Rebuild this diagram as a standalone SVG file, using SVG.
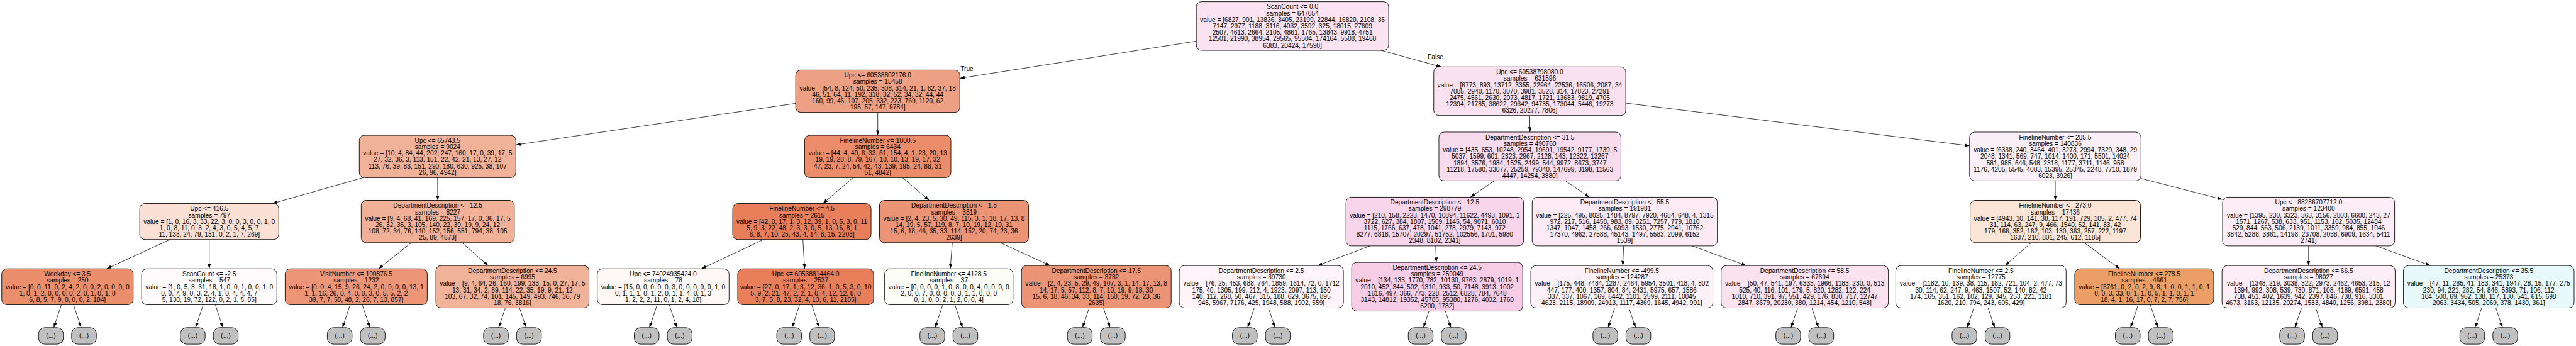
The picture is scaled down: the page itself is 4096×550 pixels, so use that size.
<svg xmlns="http://www.w3.org/2000/svg" width="4096" height="550" viewBox="0 0 4096 550">
<defs>
<marker id="ah" viewBox="0 0 14 10" refX="14" refY="5" markerWidth="14" markerHeight="10" markerUnits="userSpaceOnUse" orient="auto"><path d="M0,0.2 L14,5 L0,9.8 Z" fill="#000"/></marker>
</defs>
<style>
.n rect{stroke:#000;stroke-width:1.6}
.x rect{fill:#c0c0c0;stroke:#000;stroke-width:1.6}
text{font-family:"Liberation Sans",Arial,Helvetica,sans-serif;font-size:18.65px;text-anchor:middle;fill:#000}
#edges line{stroke:#000;stroke-width:1.4;marker-end:url(#ah)}
</style>
<rect width="4096" height="550" fill="#fff"/>
<g transform="scale(0.547228)">
<g id="edges">
<line x1="3476" y1="119.5" x2="2789" y2="227.5"/>
<line x1="4012.9" y1="146.25" x2="4187.6" y2="194.25"/>
<line x1="2312" y1="300.3" x2="1499" y2="420.8"/>
<line x1="2550.5" y1="326.5" x2="2550.5" y2="393"/>
<line x1="4445" y1="335.75" x2="4445.5" y2="383.75"/>
<line x1="4724" y1="299.6" x2="5723" y2="423.6"/>
<line x1="1055.6" y1="516" x2="791.4" y2="591.25"/>
<line x1="1271.5" y1="516" x2="1272" y2="582"/>
<line x1="2478.75" y1="516" x2="2391" y2="591.25"/>
<line x1="2622.6" y1="516" x2="2699.9" y2="582"/>
<line x1="4342" y1="525.25" x2="4272.5" y2="572.75"/>
<line x1="4548.6" y1="525.25" x2="4617.9" y2="572.75"/>
<line x1="5972" y1="525.25" x2="5972" y2="582"/>
<line x1="6221" y1="518.4" x2="6458" y2="579.3"/>
<line x1="494.4" y1="695.75" x2="309.6" y2="780.75"/>
<line x1="608" y1="695.75" x2="608" y2="780.75"/>
<line x1="1195.1" y1="705" x2="1100.3" y2="780.75"/>
<line x1="1342.4" y1="705" x2="1418.6" y2="771.5"/>
<line x1="2218.9" y1="695.75" x2="2038.1" y2="780.75"/>
<line x1="2333" y1="695.75" x2="2338" y2="780.75"/>
<line x1="2767.1" y1="705" x2="2761.1" y2="780.75"/>
<line x1="2906.2" y1="705" x2="3051.3" y2="771.5"/>
<line x1="3980.8" y1="714.25" x2="3828.5" y2="771.5"/>
<line x1="4171.6" y1="714.25" x2="4173.4" y2="762.25"/>
<line x1="4717.8" y1="714.25" x2="4715.3" y2="771.5"/>
<line x1="4916.3" y1="714.25" x2="5074.3" y2="771.5"/>
<line x1="5901.9" y1="705" x2="5826.1" y2="771.5"/>
<line x1="6055.9" y1="705" x2="6159.2" y2="780.75"/>
<line x1="6708" y1="714.25" x2="6708" y2="771.5"/>
<line x1="6903.5" y1="714.25" x2="7061.6" y2="771.5"/>
<line x1="178.4" y1="885.25" x2="156.1" y2="951.8"/>
<line x1="213.6" y1="885.25" x2="235.9" y2="951.8"/>
<line x1="590.4" y1="885.25" x2="568.1" y2="951.8"/>
<line x1="625.6" y1="885.25" x2="647.9" y2="951.8"/>
<line x1="1017.4" y1="885.25" x2="995.1" y2="951.8"/>
<line x1="1052.6" y1="885.25" x2="1074.9" y2="951.8"/>
<line x1="1468.3" y1="894.5" x2="1449.1" y2="951.8"/>
<line x1="1509.7" y1="894.5" x2="1528.9" y2="951.8"/>
<line x1="1909.4" y1="885.25" x2="1887.1" y2="951.8"/>
<line x1="1944.6" y1="885.25" x2="1966.9" y2="951.8"/>
<line x1="2323.4" y1="885.25" x2="2301.1" y2="951.8"/>
<line x1="2358.6" y1="885.25" x2="2380.9" y2="951.8"/>
<line x1="2739.4" y1="885.25" x2="2717.1" y2="951.8"/>
<line x1="2774.6" y1="885.25" x2="2796.9" y2="951.8"/>
<line x1="3164.8" y1="894.5" x2="3145.6" y2="951.8"/>
<line x1="3206.2" y1="894.5" x2="3225.4" y2="951.8"/>
<line x1="3644.3" y1="894.5" x2="3625.1" y2="951.8"/>
<line x1="3685.7" y1="894.5" x2="3704.9" y2="951.8"/>
<line x1="4152.2" y1="903.75" x2="4136.1" y2="951.8"/>
<line x1="4199.8" y1="903.75" x2="4215.9" y2="951.8"/>
<line x1="4691.8" y1="894.5" x2="4672.6" y2="951.8"/>
<line x1="4733.2" y1="894.5" x2="4752.4" y2="951.8"/>
<line x1="5223.3" y1="894.5" x2="5204.1" y2="951.8"/>
<line x1="5264.7" y1="894.5" x2="5283.9" y2="951.8"/>
<line x1="5735.3" y1="894.5" x2="5716.1" y2="951.8"/>
<line x1="5776.7" y1="894.5" x2="5795.9" y2="951.8"/>
<line x1="6212.9" y1="885.25" x2="6190.6" y2="951.8"/>
<line x1="6248.1" y1="885.25" x2="6270.4" y2="951.8"/>
<line x1="6687.3" y1="894.5" x2="6668.1" y2="951.8"/>
<line x1="6728.7" y1="894.5" x2="6747.9" y2="951.8"/>
<line x1="7210.8" y1="894.5" x2="7191.6" y2="951.8"/>
<line x1="7252.2" y1="894.5" x2="7271.4" y2="951.8"/>
<text x="2809.5" y="206.5">True</text>
<text x="4171" y="171.5">False</text>
</g>

<g id="n0" class="n"><rect x="3476" y="4.75" width="559" height="141.5" rx="15" fill="#fbe3f1"/>
<text y="26.4"><tspan x="3755.5">ScanCount &lt;= 0.0</tspan><tspan x="3755.5" dy="18.6">samples = 647054</tspan><tspan x="3755.5" dy="18.6">value = [6827, 901, 13836, 3405, 23199, 22844, 16820, 2108, 35</tspan><tspan x="3755.5" dy="18.6">7147, 2977, 1188, 3116, 4032, 3592, 325, 18015, 27609</tspan><tspan x="3755.5" dy="18.6">2507, 4613, 2664, 2105, 4861, 1765, 13843, 9918, 4751</tspan><tspan x="3755.5" dy="18.6">12501, 21990, 38954, 29565, 95504, 174164, 5508, 19468</tspan><tspan x="3755.5" dy="18.6">6383, 20424, 17590]</tspan></text></g>

<g id="n1" class="n"><rect x="2312" y="203.5" width="477" height="123" rx="15" fill="#eda083"/>
<text y="225.2"><tspan x="2550.5">Upc &lt;= 60538802176.0</tspan><tspan x="2550.5" dy="18.6">samples = 15458</tspan><tspan x="2550.5" dy="18.6">value = [54, 8, 124, 50, 235, 308, 314, 21, 1, 62, 37, 18</tspan><tspan x="2550.5" dy="18.6">46, 51, 64, 11, 192, 318, 32, 52, 34, 32, 44, 44</tspan><tspan x="2550.5" dy="18.6">160, 99, 46, 107, 205, 332, 223, 769, 1120, 62</tspan><tspan x="2550.5" dy="18.6">195, 57, 147, 9784]</tspan></text></g>

<g id="n2" class="n"><rect x="4166" y="194.25" width="558" height="141.5" rx="15" fill="#fae1ef"/>
<text y="215.9"><tspan x="4445">Upc &lt;= 60538798080.0</tspan><tspan x="4445" dy="18.6">samples = 631596</tspan><tspan x="4445" dy="18.6">value = [6773, 893, 13712, 3355, 22964, 22536, 16506, 2087, 34</tspan><tspan x="4445" dy="18.6">7085, 2940, 1170, 3070, 3981, 3528, 314, 17823, 27291</tspan><tspan x="4445" dy="18.6">2475, 4561, 2630, 2073, 4817, 1721, 13683, 9819, 4705</tspan><tspan x="4445" dy="18.6">12394, 21785, 38622, 29342, 94735, 173044, 5446, 19273</tspan><tspan x="4445" dy="18.6">6326, 20277, 7806]</tspan></text></g>

<g id="n3" class="n"><rect x="1044" y="393" width="455" height="123" rx="15" fill="#f1b29a"/>
<text y="414.7"><tspan x="1271.5">Upc &lt;= 65743.5</tspan><tspan x="1271.5" dy="18.6">samples = 9024</tspan><tspan x="1271.5" dy="18.6">value = [10, 4, 84, 44, 202, 247, 160, 17, 0, 39, 17, 5</tspan><tspan x="1271.5" dy="18.6">27, 32, 36, 3, 113, 151, 22, 42, 21, 13, 27, 12</tspan><tspan x="1271.5" dy="18.6">113, 76, 39, 83, 151, 290, 180, 630, 925, 38, 107</tspan><tspan x="1271.5" dy="18.6">26, 96, 4942]</tspan></text></g>

<g id="n4" class="n"><rect x="2338" y="393" width="425" height="123" rx="15" fill="#eb8c6a"/>
<text y="414.7"><tspan x="2550.5">FinelineNumber &lt;= 1000.5</tspan><tspan x="2550.5" dy="18.6">samples = 6434</tspan><tspan x="2550.5" dy="18.6">value = [44, 4, 40, 6, 33, 61, 154, 4, 1, 23, 20, 13</tspan><tspan x="2550.5" dy="18.6">19, 19, 28, 8, 79, 167, 10, 10, 13, 19, 17, 32</tspan><tspan x="2550.5" dy="18.6">47, 23, 7, 24, 54, 42, 43, 139, 195, 24, 88, 31</tspan><tspan x="2550.5" dy="18.6">51, 4842]</tspan></text></g>

<g id="n5" class="n"><rect x="4181" y="383.75" width="529" height="141.5" rx="15" fill="#f9dbee"/>
<text y="405.4"><tspan x="4445.5">DepartmentDescription &lt;= 31.5</tspan><tspan x="4445.5" dy="18.6">samples = 490760</tspan><tspan x="4445.5" dy="18.6">value = [435, 653, 10248, 2954, 19691, 19542, 9177, 1739, 5</tspan><tspan x="4445.5" dy="18.6">5037, 1599, 601, 2323, 2967, 2128, 143, 12322, 13267</tspan><tspan x="4445.5" dy="18.6">1894, 3576, 1984, 1525, 2499, 544, 9972, 8673, 3747</tspan><tspan x="4445.5" dy="18.6">11218, 17580, 33077, 25259, 79340, 147699, 3198, 11563</tspan><tspan x="4445.5" dy="18.6">4447, 14254, 3880]</tspan></text></g>

<g id="n6" class="n"><rect x="5723" y="383.75" width="498" height="141.5" rx="15" fill="#fcf0f8"/>
<text y="405.4"><tspan x="5972">FinelineNumber &lt;= 285.5</tspan><tspan x="5972" dy="18.6">samples = 140836</tspan><tspan x="5972" dy="18.6">value = [6338, 240, 3464, 401, 3273, 2994, 7329, 348, 29</tspan><tspan x="5972" dy="18.6">2048, 1341, 569, 747, 1014, 1400, 171, 5501, 14024</tspan><tspan x="5972" dy="18.6">581, 985, 646, 548, 2318, 1177, 3711, 1146, 958</tspan><tspan x="5972" dy="18.6">1176, 4205, 5545, 4083, 15395, 25345, 2248, 7710, 1879</tspan><tspan x="5972" dy="18.6">6023, 3926]</tspan></text></g>

<g id="n7" class="n"><rect x="406" y="591.25" width="404" height="104.5" rx="15" fill="#fbe0d5"/>
<text y="613"><tspan x="608">Upc &lt;= 416.5</tspan><tspan x="608" dy="18.6">samples = 797</tspan><tspan x="608" dy="18.6">value = [1, 0, 16, 3, 33, 22, 3, 0, 0, 3, 0, 0, 1, 0</tspan><tspan x="608" dy="18.6">1, 0, 8, 11, 0, 3, 2, 4, 3, 0, 5, 4, 5, 7</tspan><tspan x="608" dy="18.6">11, 138, 24, 79, 131, 0, 2, 1, 7, 269]</tspan></text></g>

<g id="n8" class="n"><rect x="1049.5" y="582" width="445" height="123" rx="15" fill="#f1b199"/>
<text y="603.7"><tspan x="1272">DepartmentDescription &lt;= 12.5</tspan><tspan x="1272" dy="18.6">samples = 8227</tspan><tspan x="1272" dy="18.6">value = [9, 4, 68, 41, 169, 225, 157, 17, 0, 36, 17, 5</tspan><tspan x="1272" dy="18.6">26, 32, 35, 3, 105, 140, 22, 39, 19, 9, 24, 12</tspan><tspan x="1272" dy="18.6">108, 72, 34, 76, 140, 152, 156, 551, 794, 38, 105</tspan><tspan x="1272" dy="18.6">25, 89, 4673]</tspan></text></g>

<g id="n9" class="n"><rect x="2129" y="591.25" width="402" height="104.5" rx="15" fill="#e97f5a"/>
<text y="613"><tspan x="2330">FinelineNumber &lt;= 4.5</tspan><tspan x="2330" dy="18.6">samples = 2615</tspan><tspan x="2330" dy="18.6">value = [42, 0, 17, 1, 3, 12, 39, 1, 0, 5, 3, 0, 11</tspan><tspan x="2330" dy="18.6">5, 9, 3, 22, 48, 2, 3, 3, 0, 5, 13, 16, 8, 1</tspan><tspan x="2330" dy="18.6">6, 8, 7, 10, 25, 43, 4, 14, 8, 15, 2203]</tspan></text></g>

<g id="n10" class="n"><rect x="2555.5" y="582" width="433" height="123" rx="15" fill="#ec9576"/>
<text y="603.7"><tspan x="2772">DepartmentDescription &lt;= 1.5</tspan><tspan x="2772" dy="18.6">samples = 3819</tspan><tspan x="2772" dy="18.6">value = [2, 4, 23, 5, 30, 49, 115, 3, 1, 18, 17, 13, 8</tspan><tspan x="2772" dy="18.6">14, 19, 5, 57, 119, 8, 7, 10, 19, 12, 19, 31</tspan><tspan x="2772" dy="18.6">15, 6, 18, 46, 35, 33, 114, 152, 20, 74, 23, 36</tspan><tspan x="2772" dy="18.6">2639]</tspan></text></g>

<g id="n11" class="n"><rect x="3911" y="572.75" width="516" height="141.5" rx="15" fill="#f8d5ea"/>
<text y="594.4"><tspan x="4169">DepartmentDescription &lt;= 12.5</tspan><tspan x="4169" dy="18.6">samples = 298779</tspan><tspan x="4169" dy="18.6">value = [210, 158, 2223, 1470, 10894, 11622, 4493, 1091, 1</tspan><tspan x="4169" dy="18.6">3722, 627, 384, 1807, 1509, 1145, 54, 9071, 6010</tspan><tspan x="4169" dy="18.6">1115, 1766, 637, 478, 1041, 278, 2979, 7143, 972</tspan><tspan x="4169" dy="18.6">8277, 6818, 15707, 20297, 51752, 102556, 1701, 5980</tspan><tspan x="4169" dy="18.6">2348, 8102, 2341]</tspan></text></g>

<g id="n12" class="n"><rect x="4452" y="572.75" width="538" height="141.5" rx="15" fill="#fcebf5"/>
<text y="594.4"><tspan x="4721">DepartmentDescription &lt;= 55.5</tspan><tspan x="4721" dy="18.6">samples = 191981</tspan><tspan x="4721" dy="18.6">value = [225, 495, 8025, 1484, 8797, 7920, 4684, 648, 4, 1315</tspan><tspan x="4721" dy="18.6">972, 217, 516, 1458, 983, 89, 3251, 7257, 779, 1810</tspan><tspan x="4721" dy="18.6">1347, 1047, 1458, 266, 6993, 1530, 2775, 2941, 10762</tspan><tspan x="4721" dy="18.6">17370, 4962, 27588, 45143, 1497, 5583, 2099, 6152</tspan><tspan x="4721" dy="18.6">1539]</tspan></text></g>

<g id="n13" class="n"><rect x="5724.5" y="582" width="495" height="123" rx="15" fill="#fbe5d7"/>
<text y="603.7"><tspan x="5972">FinelineNumber &lt;= 273.0</tspan><tspan x="5972" dy="18.6">samples = 17436</tspan><tspan x="5972" dy="18.6">value = [4943, 10, 141, 38, 117, 191, 729, 105, 2, 477, 74</tspan><tspan x="5972" dy="18.6">31, 114, 63, 247, 9, 466, 1540, 52, 141, 83, 42</tspan><tspan x="5972" dy="18.6">179, 166, 352, 162, 103, 130, 363, 257, 222, 1197</tspan><tspan x="5972" dy="18.6">1637, 210, 801, 245, 612, 1185]</tspan></text></g>

<g id="n14" class="n"><rect x="6458" y="572.75" width="500" height="141.5" rx="15" fill="#fdedf6"/>
<text y="594.4"><tspan x="6708">Upc &lt;= 88286707712.0</tspan><tspan x="6708" dy="18.6">samples = 123400</tspan><tspan x="6708" dy="18.6">value = [1395, 230, 3323, 363, 3156, 2803, 6600, 243, 27</tspan><tspan x="6708" dy="18.6">1571, 1267, 538, 633, 951, 1153, 162, 5035, 12484</tspan><tspan x="6708" dy="18.6">529, 844, 563, 506, 2139, 1011, 3359, 984, 855, 1046</tspan><tspan x="6708" dy="18.6">3842, 5288, 3861, 14198, 23708, 2038, 6909, 1634, 5411</tspan><tspan x="6708" dy="18.6">2741]</tspan></text></g>

<g id="n15" class="n"><rect x="5" y="780.75" width="382" height="104.5" rx="15" fill="#eb8e6c"/>
<text y="802.5"><tspan x="196">Weekday &lt;= 3.5</tspan><tspan x="196" dy="18.6">samples = 250</tspan><tspan x="196" dy="18.6">value = [0, 0, 11, 0, 2, 4, 2, 0, 0, 2, 0, 0, 0, 0</tspan><tspan x="196" dy="18.6">1, 0, 1, 2, 0, 0, 0, 0, 2, 0, 1, 0, 1, 0</tspan><tspan x="196" dy="18.6">6, 8, 5, 7, 9, 0, 0, 0, 2, 184]</tspan></text></g>

<g id="n16" class="n"><rect x="411.5" y="780.75" width="393" height="104.5" rx="15" fill="#fefbfd"/>
<text y="802.5"><tspan x="608">ScanCount &lt;= -2.5</tspan><tspan x="608" dy="18.6">samples = 547</tspan><tspan x="608" dy="18.6">value = [1, 0, 5, 3, 31, 18, 1, 0, 0, 1, 0, 0, 1, 0</tspan><tspan x="608" dy="18.6">0, 0, 7, 9, 0, 3, 2, 4, 1, 0, 4, 4, 4, 7</tspan><tspan x="608" dy="18.6">5, 130, 19, 72, 122, 0, 2, 1, 5, 85]</tspan></text></g>

<g id="n17" class="n"><rect x="828.5" y="780.75" width="413" height="104.5" rx="15" fill="#ec9577"/>
<text y="802.5"><tspan x="1035">VisitNumber &lt;= 190876.5</tspan><tspan x="1035" dy="18.6">samples = 1232</tspan><tspan x="1035" dy="18.6">value = [0, 0, 4, 15, 9, 26, 24, 2, 0, 9, 0, 0, 13, 1</tspan><tspan x="1035" dy="18.6">1, 1, 16, 26, 0, 4, 0, 0, 3, 0, 5, 5, 2, 2</tspan><tspan x="1035" dy="18.6">39, 7, 7, 58, 48, 2, 26, 7, 13, 857]</tspan></text></g>

<g id="n18" class="n"><rect x="1266.5" y="771.5" width="445" height="123" rx="15" fill="#f1b29a"/>
<text y="793.2"><tspan x="1489">DepartmentDescription &lt;= 24.5</tspan><tspan x="1489" dy="18.6">samples = 6995</tspan><tspan x="1489" dy="18.6">value = [9, 4, 64, 26, 160, 199, 133, 15, 0, 27, 17, 5</tspan><tspan x="1489" dy="18.6">13, 31, 34, 2, 89, 114, 22, 35, 19, 9, 21, 12</tspan><tspan x="1489" dy="18.6">103, 67, 32, 74, 101, 145, 149, 493, 746, 36, 79</tspan><tspan x="1489" dy="18.6">18, 76, 3816]</tspan></text></g>

<g id="n19" class="n"><rect x="1735.5" y="780.75" width="383" height="104.5" rx="15" fill="#fef8f6"/>
<text y="802.5"><tspan x="1927">Upc &lt;= 74024935424.0</tspan><tspan x="1927" dy="18.6">samples = 78</tspan><tspan x="1927" dy="18.6">value = [15, 0, 0, 0, 0, 0, 3, 0, 0, 0, 0, 0, 1, 0</tspan><tspan x="1927" dy="18.6">0, 1, 1, 1, 0, 1, 2, 0, 1, 1, 4, 0, 1, 3</tspan><tspan x="1927" dy="18.6">1, 2, 2, 2, 11, 0, 1, 2, 4, 18]</tspan></text></g>

<g id="n20" class="n"><rect x="2143.5" y="780.75" width="395" height="104.5" rx="15" fill="#e97f5a"/>
<text y="802.5"><tspan x="2341">Upc &lt;= 60538814464.0</tspan><tspan x="2341" dy="18.6">samples = 2537</tspan><tspan x="2341" dy="18.6">value = [27, 0, 17, 1, 3, 12, 36, 1, 0, 5, 3, 0, 10</tspan><tspan x="2341" dy="18.6">5, 9, 2, 21, 47, 2, 2, 1, 0, 4, 12, 12, 8, 0</tspan><tspan x="2341" dy="18.6">3, 7, 5, 8, 23, 32, 4, 13, 6, 11, 2185]</tspan></text></g>

<g id="n21" class="n"><rect x="2570.5" y="780.75" width="373" height="104.5" rx="15" fill="#fbfdf6"/>
<text y="802.5"><tspan x="2757">FinelineNumber &lt;= 4128.5</tspan><tspan x="2757" dy="18.6">samples = 37</tspan><tspan x="2757" dy="18.6">value = [0, 0, 0, 0, 1, 0, 8, 0, 0, 4, 0, 0, 0, 0</tspan><tspan x="2757" dy="18.6">2, 0, 0, 7, 0, 0, 0, 0, 3, 1, 1, 0, 0, 0</tspan><tspan x="2757" dy="18.6">0, 1, 0, 0, 2, 1, 2, 0, 0, 4]</tspan></text></g>

<g id="n22" class="n"><rect x="2968" y="771.5" width="435" height="123" rx="15" fill="#ec9576"/>
<text y="793.2"><tspan x="3185.5">DepartmentDescription &lt;= 17.5</tspan><tspan x="3185.5" dy="18.6">samples = 3782</tspan><tspan x="3185.5" dy="18.6">value = [2, 4, 23, 5, 29, 49, 107, 3, 1, 14, 17, 13, 8</tspan><tspan x="3185.5" dy="18.6">14, 17, 5, 57, 112, 8, 7, 10, 19, 9, 18, 30</tspan><tspan x="3185.5" dy="18.6">15, 6, 18, 46, 34, 33, 114, 150, 19, 72, 23, 36</tspan><tspan x="3185.5" dy="18.6">2635]</tspan></text></g>

<g id="n23" class="n"><rect x="3426.5" y="771.5" width="477" height="123" rx="15" fill="#fef4f9"/>
<text y="793.2"><tspan x="3665">DepartmentDescription &lt;= 2.5</tspan><tspan x="3665" dy="18.6">samples = 39730</tspan><tspan x="3665" dy="18.6">value = [76, 25, 453, 688, 764, 1859, 1614, 72, 0, 1712</tspan><tspan x="3665" dy="18.6">175, 40, 1305, 199, 212, 4, 1923, 2097, 113, 150</tspan><tspan x="3665" dy="18.6">140, 112, 268, 50, 467, 315, 188, 629, 3675, 895</tspan><tspan x="3665" dy="18.6">945, 5967, 7176, 425, 1948, 588, 1902, 559]</tspan></text></g>

<g id="n24" class="n"><rect x="3927.5" y="762.25" width="497" height="141.5" rx="15" fill="#f7cce6"/>
<text y="783.9"><tspan x="4176">DepartmentDescription &lt;= 24.5</tspan><tspan x="4176" dy="18.6">samples = 259049</tspan><tspan x="4176" dy="18.6">value = [134, 133, 1770, 782, 10130, 9763, 2879, 1019, 1</tspan><tspan x="4176" dy="18.6">2010, 452, 344, 502, 1310, 933, 50, 7148, 3913, 1002</tspan><tspan x="4176" dy="18.6">1616, 497, 366, 773, 228, 2512, 6828, 784, 7648</tspan><tspan x="4176" dy="18.6">3143, 14812, 19352, 45785, 95380, 1276, 4032, 1760</tspan><tspan x="4176" dy="18.6">6200, 1782]</tspan></text></g>

<g id="n25" class="n"><rect x="4448" y="771.5" width="529" height="123" rx="15" fill="#fdf1f8"/>
<text y="793.2"><tspan x="4712.5">FinelineNumber &lt;= -499.5</tspan><tspan x="4712.5" dy="18.6">samples = 124287</tspan><tspan x="4712.5" dy="18.6">value = [175, 448, 7484, 1287, 2464, 5954, 3501, 418, 4, 802</tspan><tspan x="4712.5" dy="18.6">447, 177, 400, 1357, 804, 84, 2431, 5975, 657, 1586</tspan><tspan x="4712.5" dy="18.6">337, 337, 1067, 169, 6442, 1101, 2599, 2111, 10045</tspan><tspan x="4712.5" dy="18.6">4623, 2115, 18909, 24913, 1117, 4369, 1645, 4942, 991]</tspan></text></g>

<g id="n26" class="n"><rect x="5001" y="771.5" width="486" height="123" rx="15" fill="#fae2ef"/>
<text y="793.2"><tspan x="5244">DepartmentDescription &lt;= 58.5</tspan><tspan x="5244" dy="18.6">samples = 67694</tspan><tspan x="5244" dy="18.6">value = [50, 47, 541, 197, 6333, 1966, 1183, 230, 0, 513</tspan><tspan x="5244" dy="18.6">525, 40, 116, 101, 179, 5, 820, 1282, 122, 224</tspan><tspan x="5244" dy="18.6">1010, 710, 391, 97, 551, 429, 176, 830, 717, 12747</tspan><tspan x="5244" dy="18.6">2847, 8679, 20230, 380, 1214, 454, 1210, 548]</tspan></text></g>

<g id="n27" class="n"><rect x="5508.5" y="771.5" width="495" height="123" rx="15" fill="#fffeff"/>
<text y="793.2"><tspan x="5756">FinelineNumber &lt;= 2.5</tspan><tspan x="5756" dy="18.6">samples = 12775</tspan><tspan x="5756" dy="18.6">value = [1182, 10, 139, 38, 115, 182, 721, 104, 2, 477, 73</tspan><tspan x="5756" dy="18.6">30, 114, 62, 247, 9, 463, 1507, 52, 140, 82, 42</tspan><tspan x="5756" dy="18.6">174, 165, 351, 162, 102, 129, 345, 253, 221, 1181</tspan><tspan x="5756" dy="18.6">1620, 210, 794, 243, 605, 429]</tspan></text></g>

<g id="n28" class="n"><rect x="6028.5" y="780.75" width="404" height="104.5" rx="15" fill="#eb9e66"/>
<text y="802.5"><tspan x="6230.5">FinelineNumber &lt;= 278.5</tspan><tspan x="6230.5" dy="18.6">samples = 4661</tspan><tspan x="6230.5" dy="18.6">value = [3761, 0, 2, 0, 2, 9, 8, 1, 0, 0, 1, 1, 0, 1</tspan><tspan x="6230.5" dy="18.6">0, 0, 3, 33, 0, 1, 1, 0, 5, 1, 1, 0, 1, 1</tspan><tspan x="6230.5" dy="18.6">18, 4, 1, 16, 17, 0, 7, 2, 7, 756]</tspan></text></g>

<g id="n29" class="n"><rect x="6456.5" y="771.5" width="503" height="123" rx="15" fill="#fdedf6"/>
<text y="793.2"><tspan x="6708">DepartmentDescription &lt;= 66.5</tspan><tspan x="6708" dy="18.6">samples = 98027</tspan><tspan x="6708" dy="18.6">value = [1348, 219, 3038, 322, 2973, 2462, 4653, 215, 12</tspan><tspan x="6708" dy="18.6">1394, 992, 308, 539, 730, 871, 108, 4189, 6591, 458</tspan><tspan x="6708" dy="18.6">738, 451, 402, 1639, 942, 2397, 846, 738, 916, 3301</tspan><tspan x="6708" dy="18.6">4673, 3163, 12135, 20274, 1533, 4840, 1256, 3981, 2380]</tspan></text></g>

<g id="n30" class="n"><rect x="6983.5" y="771.5" width="496" height="123" rx="15" fill="#e8f9fc"/>
<text y="793.2"><tspan x="7231.5">DepartmentDescription &lt;= 35.5</tspan><tspan x="7231.5" dy="18.6">samples = 25373</tspan><tspan x="7231.5" dy="18.6">value = [47, 11, 285, 41, 183, 341, 1947, 28, 15, 177, 275</tspan><tspan x="7231.5" dy="18.6">230, 94, 221, 282, 54, 846, 5893, 71, 106, 112</tspan><tspan x="7231.5" dy="18.6">104, 500, 69, 962, 138, 117, 130, 541, 615, 698</tspan><tspan x="7231.5" dy="18.6">2063, 3434, 505, 2069, 378, 1430, 361]</tspan></text></g>

<g id="t0" class="x"><rect x="112" y="951.8" width="72" height="48" rx="18"/><text x="148" y="982">(...)</text></g>
<g id="t1" class="x"><rect x="208" y="951.8" width="72" height="48" rx="18"/><text x="244" y="982">(...)</text></g>
<g id="t2" class="x"><rect x="524" y="951.8" width="72" height="48" rx="18"/><text x="560" y="982">(...)</text></g>
<g id="t3" class="x"><rect x="620" y="951.8" width="72" height="48" rx="18"/><text x="656" y="982">(...)</text></g>
<g id="t4" class="x"><rect x="951" y="951.8" width="72" height="48" rx="18"/><text x="987" y="982">(...)</text></g>
<g id="t5" class="x"><rect x="1047" y="951.8" width="72" height="48" rx="18"/><text x="1083" y="982">(...)</text></g>
<g id="t6" class="x"><rect x="1405" y="951.8" width="72" height="48" rx="18"/><text x="1441" y="982">(...)</text></g>
<g id="t7" class="x"><rect x="1501" y="951.8" width="72" height="48" rx="18"/><text x="1537" y="982">(...)</text></g>
<g id="t8" class="x"><rect x="1843" y="951.8" width="72" height="48" rx="18"/><text x="1879" y="982">(...)</text></g>
<g id="t9" class="x"><rect x="1939" y="951.8" width="72" height="48" rx="18"/><text x="1975" y="982">(...)</text></g>
<g id="t10" class="x"><rect x="2257" y="951.8" width="72" height="48" rx="18"/><text x="2293" y="982">(...)</text></g>
<g id="t11" class="x"><rect x="2353" y="951.8" width="72" height="48" rx="18"/><text x="2389" y="982">(...)</text></g>
<g id="t12" class="x"><rect x="2673" y="951.8" width="72" height="48" rx="18"/><text x="2709" y="982">(...)</text></g>
<g id="t13" class="x"><rect x="2769" y="951.8" width="72" height="48" rx="18"/><text x="2805" y="982">(...)</text></g>
<g id="t14" class="x"><rect x="3101.5" y="951.8" width="72" height="48" rx="18"/><text x="3137.5" y="982">(...)</text></g>
<g id="t15" class="x"><rect x="3197.5" y="951.8" width="72" height="48" rx="18"/><text x="3233.5" y="982">(...)</text></g>
<g id="t16" class="x"><rect x="3581" y="951.8" width="72" height="48" rx="18"/><text x="3617" y="982">(...)</text></g>
<g id="t17" class="x"><rect x="3677" y="951.8" width="72" height="48" rx="18"/><text x="3713" y="982">(...)</text></g>
<g id="t18" class="x"><rect x="4092" y="951.8" width="72" height="48" rx="18"/><text x="4128" y="982">(...)</text></g>
<g id="t19" class="x"><rect x="4188" y="951.8" width="72" height="48" rx="18"/><text x="4224" y="982">(...)</text></g>
<g id="t20" class="x"><rect x="4628.5" y="951.8" width="72" height="48" rx="18"/><text x="4664.5" y="982">(...)</text></g>
<g id="t21" class="x"><rect x="4724.5" y="951.8" width="72" height="48" rx="18"/><text x="4760.5" y="982">(...)</text></g>
<g id="t22" class="x"><rect x="5160" y="951.8" width="72" height="48" rx="18"/><text x="5196" y="982">(...)</text></g>
<g id="t23" class="x"><rect x="5256" y="951.8" width="72" height="48" rx="18"/><text x="5292" y="982">(...)</text></g>
<g id="t24" class="x"><rect x="5672" y="951.8" width="72" height="48" rx="18"/><text x="5708" y="982">(...)</text></g>
<g id="t25" class="x"><rect x="5768" y="951.8" width="72" height="48" rx="18"/><text x="5804" y="982">(...)</text></g>
<g id="t26" class="x"><rect x="6146.5" y="951.8" width="72" height="48" rx="18"/><text x="6182.5" y="982">(...)</text></g>
<g id="t27" class="x"><rect x="6242.5" y="951.8" width="72" height="48" rx="18"/><text x="6278.5" y="982">(...)</text></g>
<g id="t28" class="x"><rect x="6624" y="951.8" width="72" height="48" rx="18"/><text x="6660" y="982">(...)</text></g>
<g id="t29" class="x"><rect x="6720" y="951.8" width="72" height="48" rx="18"/><text x="6756" y="982">(...)</text></g>
<g id="t30" class="x"><rect x="7147.5" y="951.8" width="72" height="48" rx="18"/><text x="7183.5" y="982">(...)</text></g>
<g id="t31" class="x"><rect x="7243.5" y="951.8" width="72" height="48" rx="18"/><text x="7279.5" y="982">(...)</text></g>
</g>
</svg>
